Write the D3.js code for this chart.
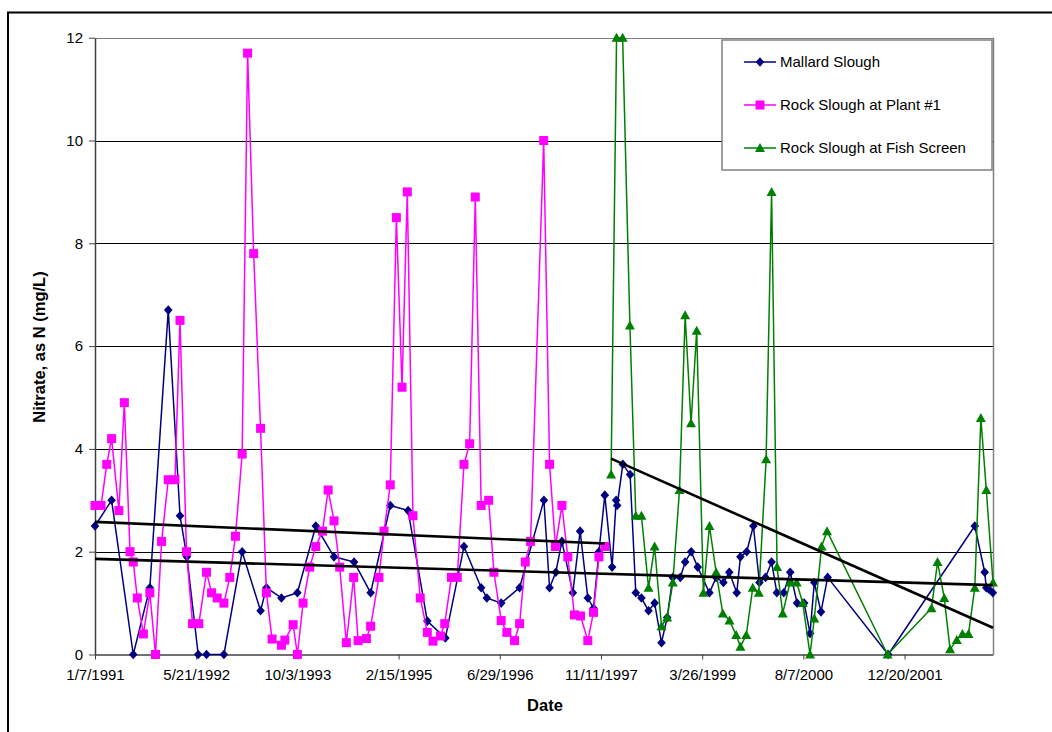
<!DOCTYPE html>
<html>
<head>
<meta charset="utf-8">
<script src="https://cdn.jsdelivr.net/npm/d3@7"></script>
<style>
  html, body { margin: 0; padding: 0; background: #fff; }
  svg { display: block; font-family: "Liberation Sans", Arial, sans-serif; }
</style>
</head>
<body>
<svg id="chart" width="1052" height="732"></svg>
<script>
// ---- Data (day offsets from the first sample date, 1/7/1991) ----
const startDate = new Date(1991, 0, 7);
const tickStepDays = 500;
const yTicks = [0, 2, 4, 6, 8, 10, 12];
const seriesNames = ["Mallard Slough", "Rock Slough at Plant #1", "Rock Slough at Fish Screen"];

const mallardDays = [0, 82, 189, 271, 362, 420, 454, 510, 551, 637, 727, 818, 847, 921, 1000, 1091, 1181, 1280, 1362, 1459, 1547, 1642, 1731, 1823, 1908, 1936, 2007, 2098, 2218, 2246, 2277, 2307, 2361, 2397, 2435, 2463, 2490, 2519, 2555, 2575, 2580, 2608, 2644, 2672, 2700, 2735, 2765, 2799, 2827, 2855, 2892, 2916, 2946, 2978, 3036, 3069, 3105, 3134, 3171, 3189, 3220, 3253, 3283, 3313, 3343, 3369, 3403, 3435, 3469, 3504, 3533, 3554, 3587, 3620, 3919, 4347, 4396, 4404, 4417, 4436];
const mallardVals = [2.5, 3.0, 0, 1.3, 6.7, 2.7, 1.9, 0, 0, 0, 2.0, 0.85, 1.3, 1.1, 1.2, 2.5, 1.9, 1.8, 1.2, 2.9, 2.8, 0.65, 0.32, 2.1, 1.3, 1.1, 1.0, 1.3, 3.0, 1.3, 1.6, 2.2, 1.2, 2.4, 1.1, 0.9, 2.0, 3.1, 1.7, 3.0, 2.9, 3.7, 3.5, 1.2, 1.1, 0.85, 1.0, 0.23, 0.72, 1.5, 1.5, 1.8, 2.0, 1.7, 1.2, 1.5, 1.4, 1.6, 1.2, 1.9, 2.0, 2.5, 1.4, 1.5, 1.8, 1.2, 1.2, 1.6, 1.0, 1.0, 0.41, 1.4, 0.83, 1.5, 0, 2.5, 1.6, 1.3, 1.27, 1.2];

const plantDays = [0, 30, 58, 82, 118, 145, 173, 189, 209, 239, 271, 299, 329, 362, 395, 420, 452, 482, 513, 551, 576, 604, 637, 666, 694, 727, 754, 784, 818, 847, 875, 921, 938, 979, 1000, 1028, 1061, 1091, 1124, 1152, 1181, 1209, 1242, 1278, 1300, 1341, 1362, 1403, 1428, 1459, 1489, 1517, 1543, 1571, 1607, 1642, 1670, 1707, 1728, 1761, 1790, 1823, 1851, 1879, 1908, 1945, 1971, 2007, 2035, 2073, 2098, 2126, 2152, 2217, 2246, 2275, 2307, 2336, 2369, 2399, 2435, 2463, 2490, 2519];
const plantVals = [2.9, 2.9, 3.7, 4.2, 2.8, 4.9, 2.0, 1.8, 1.1, 0.4, 1.2, 0, 2.2, 3.4, 3.4, 6.5, 2.0, 0.6, 0.6, 1.6, 1.2, 1.1, 1.0, 1.5, 2.3, 3.9, 11.7, 7.8, 4.4, 1.2, 0.3, 0.18, 0.28, 0.58, 0, 1.0, 1.7, 2.1, 2.4, 3.2, 2.6, 1.7, 0.23, 1.5, 0.27, 0.31, 0.55, 1.5, 2.4, 3.3, 8.5, 5.2, 9.0, 2.7, 1.1, 0.43, 0.26, 0.36, 0.6, 1.5, 1.5, 3.7, 4.1, 8.9, 2.9, 3.0, 1.6, 0.66, 0.43, 0.27, 0.6, 1.8, 2.2, 10.0, 3.7, 2.1, 2.9, 1.9, 0.77, 0.75, 0.27, 0.82, 1.9, 2.1];

const screenDays = [2550, 2577, 2607, 2643, 2672, 2700, 2735, 2765, 2799, 2827, 2855, 2888, 2916, 2945, 2973, 3006, 3036, 3069, 3102, 3135, 3168, 3189, 3218, 3250, 3280, 3316, 3343, 3370, 3398, 3434, 3467, 3497, 3533, 3554, 3590, 3617, 3916, 4133, 4163, 4196, 4225, 4258, 4286, 4316, 4347, 4377, 4404, 4437];
const screenVals = [3.5, 12.0, 12.0, 6.4, 2.7, 2.7, 1.3, 2.1, 0.55, 0.72, 1.4, 3.2, 6.6, 4.5, 6.3, 1.2, 2.5, 1.6, 0.8, 0.66, 0.38, 0.15, 0.38, 1.3, 1.2, 3.8, 9.0, 1.7, 0.8, 1.4, 1.4, 1.0, 0, 0.7, 2.1, 2.4, 0, 0.9, 1.8, 1.1, 0.1, 0.28, 0.4, 0.4, 1.3, 4.6, 3.2, 1.4];

// Linear trend lines: [startDay, endDay], [startValue, endValue]
const mallardTrendDays = [0, 4437];
const mallardTrendVals = [1.86, 1.35];
const plantTrendDays = [0, 2519];
const plantTrendVals = [2.58, 2.16];
const screenTrendDays = [2550, 4437];
const screenTrendVals = [3.81, 0.52];

// ---- Chart ----
const svg = d3.select("#chart");
const dayToDate = d => d3.timeDay.offset(startDate, d);
const allDays = mallardDays.concat(plantDays, screenDays);
const maxDay = d3.max(allDays);

const plot = { left: 95, right: 993, top: 37.7, bottom: 654.5 };
const x = d3.scaleTime().domain([startDate, dayToDate(maxDay)]).range([plot.left, plot.right]);
const y = d3.scaleLinear().domain([0, 12]).range([plot.bottom, plot.top]);

// Outer chart frame (clipped at right/bottom like the reference)
svg.append("rect").attr("x", 8).attr("y", 12.5).attr("width", 1100).attr("height", 800)
  .attr("fill", "none").attr("stroke", "#000").attr("stroke-width", 2);

// Gridlines
svg.append("g").selectAll("line").data(yTicks.filter(t => t > 0)).join("line")
  .attr("x1", plot.left).attr("x2", plot.right)
  .attr("y1", d => Math.round(y(d)) + 0.5).attr("y2", d => Math.round(y(d)) + 0.5)
  .attr("stroke", d => d === 12 ? "#808080" : "#000").attr("stroke-width", 1);

// Plot area right border
svg.append("line").attr("x1", plot.right + 0.5).attr("x2", plot.right + 0.5)
  .attr("y1", plot.top).attr("y2", plot.bottom).attr("stroke", "#808080").attr("stroke-width", 1.5);

// Axes
const tickDates = d3.range(0, maxDay + 1, tickStepDays).map(dayToDate);
const fmt = d3.timeFormat("%-m/%-d/%Y");
const xAxis = d3.axisBottom(x).tickValues(tickDates).tickFormat(fmt).tickSize(5).tickSizeOuter(0);
const yAxis = d3.axisLeft(y).tickValues(yTicks).tickFormat(d3.format("d")).tickSize(6).tickSizeOuter(0);

const gx = svg.append("g").attr("transform", `translate(0,${plot.bottom})`).call(xAxis);
gx.select(".domain").attr("stroke", "#404040").attr("stroke-width", 1.5);
gx.selectAll(".tick line").attr("stroke", "#404040");
gx.selectAll(".tick text").attr("font-size", 15).attr("fill", "#000")
  .attr("font-family", "Liberation Sans, Arial, sans-serif").attr("dy", "1.15em");

const gy = svg.append("g").attr("transform", `translate(${plot.left},0)`).call(yAxis);
gy.select(".domain").attr("stroke", "#404040").attr("stroke-width", 1.5);
gy.selectAll(".tick line").attr("stroke", "#404040");
gy.selectAll(".tick text").attr("font-size", 15).attr("fill", "#000")
  .attr("font-family", "Liberation Sans, Arial, sans-serif").attr("x", -12);

// Axis titles
svg.append("text").attr("x", 545).attr("y", 711).attr("text-anchor", "middle")
  .attr("font-size", 16.5).attr("font-weight", "bold").text("Date");
svg.append("text").attr("transform", "translate(45,347) rotate(-90)").attr("text-anchor", "middle")
  .attr("font-size", 16.5).attr("font-weight", "bold").text("Nitrate, as N (mg/L)");

// Markers
const markerPaths = {
  diamond: "M0,-4.8L4.3,0L0,4.8L-4.3,0Z",
  square: "M-4.5,-4.5H4.5V4.5H-4.5Z",
  triangle: "M0,-5L5,4L-5,4Z"
};
const series = [
  { name: seriesNames[0], days: mallardDays, vals: mallardVals, color: "#000080", marker: "diamond" },
  { name: seriesNames[1], days: plantDays, vals: plantVals, color: "#FF00FF", marker: "square" },
  { name: seriesNames[2], days: screenDays, vals: screenVals, color: "#008000", marker: "triangle" }
];

const line = d3.line().x(d => x(d[0])).y(d => y(d[1]));
series.forEach(s => {
  const pts = s.days.map((d, i) => [dayToDate(d), s.vals[i]]);
  const g = svg.append("g");
  g.append("path").datum(pts).attr("d", line).attr("fill", "none")
    .attr("stroke", s.color).attr("stroke-width", 1.5).attr("stroke-linejoin", "round");
  g.selectAll("path.m").data(pts).join("path").attr("class", "m")
    .attr("d", markerPaths[s.marker])
    .attr("transform", d => `translate(${x(d[0])},${y(d[1])})`)
    .attr("fill", s.color);
});

// Trend lines
[[mallardTrendDays, mallardTrendVals], [plantTrendDays, plantTrendVals], [screenTrendDays, screenTrendVals]]
  .forEach(([ds, vs]) => {
    svg.append("path").datum(ds.map((d, i) => [dayToDate(d), vs[i]])).attr("d", line)
      .attr("fill", "none").attr("stroke", "#000").attr("stroke-width", 2.6);
  });

// Legend
const lg = svg.append("g");
lg.append("rect").attr("x", 722).attr("y", 40).attr("width", 270).attr("height", 130)
  .attr("fill", "#fff").attr("stroke", "#808080").attr("stroke-width", 1.5);
series.forEach((s, i) => {
  const ly = 62 + i * 43;
  lg.append("line").attr("x1", 744).attr("x2", 776).attr("y1", ly).attr("y2", ly)
    .attr("stroke", s.color).attr("stroke-width", 1.5);
  lg.append("path").attr("d", markerPaths[s.marker]).attr("transform", `translate(760,${ly})`).attr("fill", s.color);
  lg.append("text").attr("x", 780).attr("y", ly).attr("dy", "0.35em").attr("font-size", 15).text(s.name);
});
</script>
</body>
</html>
